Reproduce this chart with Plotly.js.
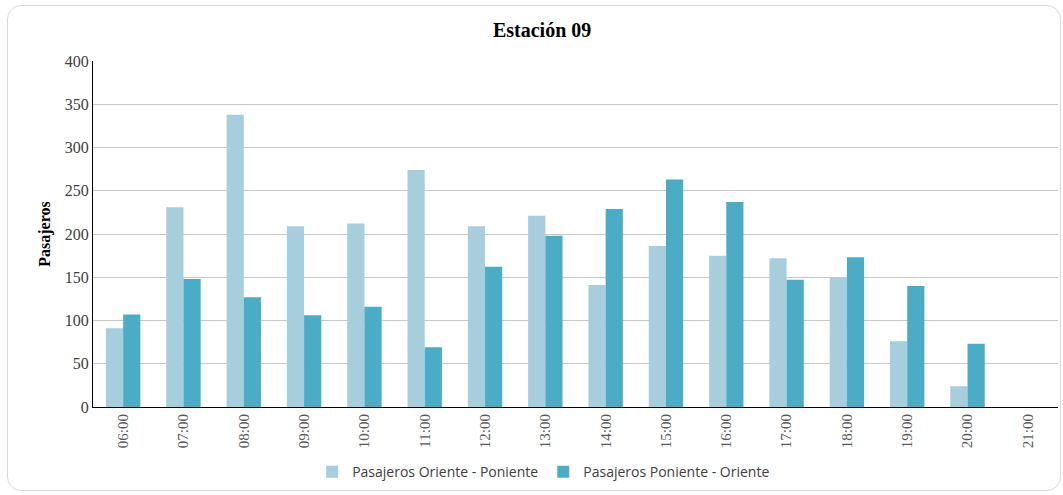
<!DOCTYPE html>
<html>
<head>
<meta charset="utf-8">
<script src="https://cdn.plot.ly/plotly-3.0.1.min.js"></script>
<style>
  html, body { margin: 0; padding: 0; background: #ffffff; }
  #wrap { position: relative; width: 1063px; height: 495px; }
  #frame { position: absolute; left: 7px; top: 5px; width: 1052px; height: 484px;
           border: 1px solid #d9d9d9; border-radius: 14px; pointer-events: none; }
  #chart { position: absolute; left: 0; top: 0; width: 1063px; height: 495px; }
</style>
</head>
<body>
<div id="wrap">
  <div id="chart"></div>
  <div id="frame"></div>
</div>
<script>
const categories = ["06:00","07:00","08:00","09:00","10:00","11:00","12:00","13:00","14:00","15:00","16:00","17:00","18:00","19:00","20:00","21:00"];
const orientePoniente = [91, 231, 338, 209, 212, 274, 209, 221, 141, 186, 175, 172, 149, 76, 24, 0];
const ponienteOriente = [107, 148, 127, 106, 116, 69, 162, 198, 229, 263, 237, 147, 173, 140, 73, 0];
const seriesNames = ["Pasajeros Oriente - Poniente", "Pasajeros Poniente - Oriente"];
const yTicks = [0, 50, 100, 150, 200, 250, 300, 350, 400];

const serif = "Liberation Serif, Times New Roman, serif";

const traces = [
  { type: "bar", x: categories, y: orientePoniente, name: seriesNames[0],
    marker: { color: "#A6CEDC" }, hoverinfo: "x+y" },
  { type: "bar", x: categories, y: ponienteOriente, name: seriesNames[1],
    marker: { color: "#4BACC6" }, hoverinfo: "x+y" }
];

const layout = {
  width: 1063, height: 495,
  margin: { l: 93, r: 5, t: 61, b: 88 },
  paper_bgcolor: "rgba(0,0,0,0)",
  plot_bgcolor: "#ffffff",
  barmode: "group",
  bargap: 0.43,
  bargroupgap: 0,
  title: { text: "<b>Estación 09</b>", font: { family: serif, size: 20, color: "#000000" },
           xref: "container", x: 0.510, xanchor: "center", yref: "container", y: 0.939, yanchor: "middle" },
  xaxis: {
    type: "category",
    tickangle: -90,
    tickfont: { family: serif, size: 15, color: "#595959" },
    showline: true, linecolor: "#000000", linewidth: 1,
    ticks: "", showgrid: false, zeroline: false,
    automargin: false
  },
  yaxis: {
    range: [0, 400],
    tickvals: yTicks,
    ticktext: yTicks.map(String),
    tickfont: { family: serif, size: 16, color: "#404040" },
    showline: true, linecolor: "#000000", linewidth: 1,
    showgrid: true, gridcolor: "#C9C9C9", gridwidth: 1,
    zeroline: false, ticks: "", ticklen: 0,
    title: { text: "<b>Pasajeros</b>", font: { family: serif, size: 16, color: "#000000" }, standoff: 10 },
    automargin: false
  },
  legend: {
    orientation: "h", x: 0.467, xanchor: "center", y: -0.188, yanchor: "middle",
    font: { family: "Open Sans, sans-serif", size: 14, color: "#404040" },
    itemwidth: 30, traceorder: "normal"
  },
  showlegend: true
};

Plotly.newPlot("chart", traces, layout, { displayModeBar: false, staticPlot: true });
</script>
</body>
</html>
